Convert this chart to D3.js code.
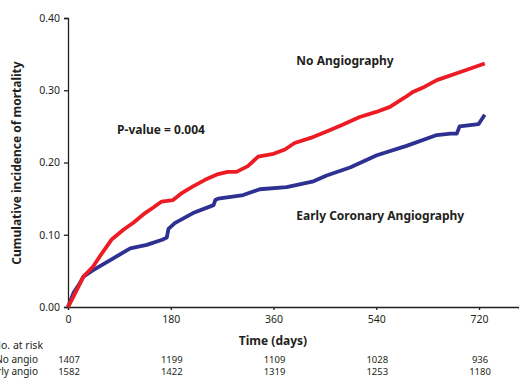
<!DOCTYPE html>
<html>
<head>
<meta charset="utf-8">
<script src="https://cdn.jsdelivr.net/npm/d3@7"></script>
<style>
  body { margin: 0; background: #fff; }
  svg { display: block; font-family: "Noto Sans", sans-serif; }
</style>
</head>
<body>
<div id="chart"></div>
<script>
// days / cumulative incidence
const noAngioDays = [0, 10, 27, 44, 60, 76, 97, 115, 135, 150, 164, 184, 200, 219, 240, 263, 280, 295, 315, 333, 360, 380, 397, 425, 453, 480, 511, 540, 564, 590, 605, 625, 646, 690, 730];
const noAngioVals = [0, 0.015, 0.042, 0.056, 0.075, 0.093, 0.107, 0.117, 0.130, 0.138, 0.146, 0.148, 0.158, 0.167, 0.176, 0.184, 0.187, 0.187, 0.195, 0.208, 0.212, 0.218, 0.227, 0.234, 0.243, 0.252, 0.263, 0.270, 0.277, 0.290, 0.298, 0.305, 0.314, 0.326, 0.337];
const earlyDays = [0, 10, 20, 27, 44, 74, 109, 138, 165, 173, 176, 187, 219, 255, 258, 263, 307, 336, 383, 430, 453, 494, 541, 593, 646, 670, 681, 686, 719, 730];
const earlyVals = [0, 0.02, 0.032, 0.042, 0.051, 0.065, 0.081, 0.086, 0.093, 0.096, 0.108, 0.116, 0.130, 0.141, 0.148, 0.150, 0.155, 0.163, 0.166, 0.174, 0.182, 0.193, 0.210, 0.223, 0.238, 0.240, 0.240, 0.250, 0.253, 0.266];

const xTicks = [0, 180, 360, 540, 720];
const yTicks = [0, 0.1, 0.2, 0.3, 0.4];
const riskLabels = ["No angio", "Early angio"];
const riskNoAngio = [1407, 1199, 1109, 1028, 936];
const riskEarly = [1582, 1422, 1319, 1253, 1180];

const W = 519, H = 380;
const svg = d3.select("#chart").append("svg")
  .attr("width", W).attr("height", H);

const x = d3.scaleLinear().domain([0, 790]).range([68, 519]);
const y = d3.scaleLinear().domain([0, 0.4]).range([307, 18]);

// axes
const yAxis = svg.append("g")
  .attr("transform", "translate(68,0)")
  .call(d3.axisLeft(y).tickValues(yTicks).tickFormat(d3.format(".2f")).tickSize(4).tickPadding(4));
const xAxis = svg.append("g")
  .attr("transform", "translate(0,307)")
  .call(d3.axisBottom(x).tickValues(xTicks).tickSize(3).tickPadding(6));
[xAxis, yAxis].forEach(a => {
  a.select(".domain").attr("stroke", "#231f20").attr("stroke-width", 1.3);
  a.selectAll(".tick line").attr("stroke", "#231f20").attr("stroke-width", 1.3);
  a.selectAll("text").attr("font-size", 10.5).attr("fill", "#231f20")
    .attr("font-family", "'Noto Sans', sans-serif");
});

// curves
const line = d3.line().x(d => x(d[0])).y(d => y(d[1]));
svg.append("path")
  .datum(d3.zip(earlyDays, earlyVals))
  .attr("d", line)
  .attr("fill", "none").attr("stroke", "#2e3192").attr("stroke-width", 3.8)
  .attr("stroke-linejoin", "round");
svg.append("path")
  .datum(d3.zip(noAngioDays, noAngioVals))
  .attr("d", line)
  .attr("fill", "none").attr("stroke", "#ed1c24").attr("stroke-width", 3.8)
  .attr("stroke-linejoin", "round");

// titles
svg.append("text")
  .attr("transform", "translate(21,163) rotate(-90)")
  .attr("text-anchor", "middle")
  .attr("font-size", 12).attr("font-weight", "bold").attr("fill", "#231f20")
  .text("Cumulative incidence of mortality");
svg.append("text")
  .attr("x", 273).attr("y", 345)
  .attr("text-anchor", "middle")
  .attr("font-size", 12).attr("font-weight", "bold").attr("fill", "#231f20")
  .text("Time (days)");

// annotations
const notes = [
  { t: "No Angiography", d: 400, v: 0.335 },
  { t: "P-value = 0.004", d: 86, v: 0.240 },
  { t: "Early Coronary Angiography", d: 400, v: 0.121 }
];
svg.selectAll(".note").data(notes).enter().append("text")
  .attr("class", "note")
  .attr("x", d => x(d.d)).attr("y", d => y(d.v))
  .attr("font-size", 12).attr("font-weight", "bold").attr("fill", "#231f20")
  .text(d => d.t);

// number at risk (row labels run off the left edge, as in the original)
svg.append("text").attr("x", 43).attr("y", 349)
  .attr("text-anchor", "end")
  .attr("font-size", 10.5).attr("fill", "#231f20").text("No. at risk");
[riskNoAngio, riskEarly].forEach((row, i) => {
  svg.append("text").attr("x", 38).attr("y", 363 + i * 12)
    .attr("text-anchor", "end")
    .attr("font-size", 10).attr("fill", "#231f20").text(riskLabels[i]);
  svg.selectAll(".risk" + i).data(row).enter().append("text")
    .attr("x", (d, j) => x(xTicks[j]) + 1).attr("y", 363 + i * 12)
    .attr("text-anchor", "middle")
    .attr("font-size", 9.5).attr("fill", "#231f20")
    .text(d => d);
});
</script>
</body>
</html>
